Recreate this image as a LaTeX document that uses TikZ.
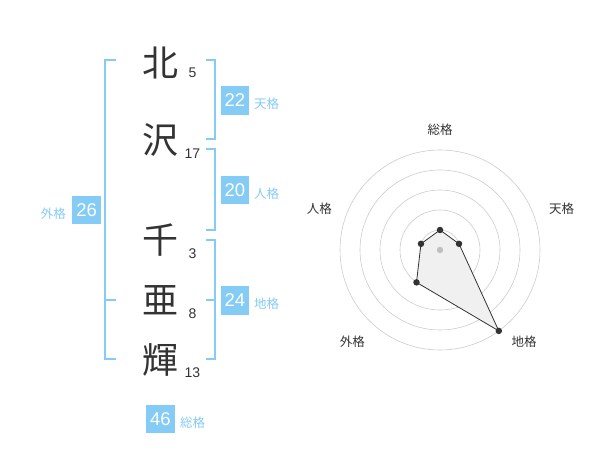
\documentclass[tikz,border=0pt]{standalone}
\usepackage{fontspec}
\setmainfont{Liberation Sans}
\newfontfamily\jpfont{Noto Sans CJK JP}
\definecolor{kaku}{HTML}{84CBF6}
\definecolor{ink}{HTML}{333333}

\begin{document}
\begin{tikzpicture}[x=1pt,y=-1pt,
    kanji/.style={text=ink,inner sep=0pt,font=\jpfont\fontsize{36}{36}\selectfont},
    strokes/.style={text=ink,inner sep=0pt,font=\fontsize{14}{14}\selectfont},
    kakubox/.style={fill=kaku,text=white,minimum width=28.5pt,minimum height=28.5pt,inner sep=0pt,font=\fontsize{18.5}{18.5}\selectfont},
    kakuname/.style={text=kaku,inner sep=0pt,anchor=west,font=\jpfont\fontsize{12.5}{12.5}\selectfont},
    bracket/.style={draw=kaku,line width=2pt},
    ring/.style={draw=black!20,line width=0.6pt},
    axisname/.style={text=ink,inner sep=0pt,font=\jpfont\fontsize{12.5}{12.5}\selectfont},
    dot/.style={circle,fill=ink,inner sep=0pt,minimum size=6.5pt}]
    \useasboundingbox (0,0) rectangle (600,470);

    % name and stroke counts
    \foreach \ch/\n/\y/\yn/\name in {北/5/63.3/72.7/kita,沢/17/140/153.3/sawa,千/3/240/253.3/chi,亜/8/300/313.3/a,輝/13/360/372.7/ki}
    {
      \node[kanji] (\name) at (160,\y) {\ch};
      \node[strokes] (\name-n) at (192.5,\yn) {\n};
    }

    % brackets
    \draw[bracket] (116,60) -- (104.5,60) -- (104.5,359.3) -- (116,359.3);
    \draw[bracket] (104.5,300) -- (116,300);
    \draw[bracket] (206,60) -- (215,60) -- (215,139.3) -- (206,139.3);
    \draw[bracket] (206,149.3) -- (215,149.3) -- (215,230) -- (206,230);
    \draw[bracket] (206,240) -- (215,240) -- (215,359.3) -- (206,359.3);
    \draw[bracket] (206,300) -- (215,300);

    % scores
    \node[kakubox] (ten) at (235,100.5) {22};
    \node[kakuname] (ten-l) at (254,104) {天格};
    \node[kakubox] (jin) at (235,190) {20};
    \node[kakuname] (jin-l) at (254,194) {人格};
    \node[kakubox] (chikaku) at (235,300.5) {24};
    \node[kakuname] (chikaku-l) at (254,304) {地格};
    \node[kakubox] (gai) at (86.7,210) {26};
    \node[kakuname,anchor=east] (gai-l) at (66,213.3) {外格};
    \node[kakubox] (sou) at (160.5,419) {46};
    \node[kakuname] (sou-l) at (180,422.3) {総格};

    % radar chart (y points down, so angles run clockwise)
    \coordinate (o) at (440,250);
    \foreach \r in {20,40,60,80,100}
      \draw[ring] (o) circle (\r);
    \path (o) ++(-90:20) coordinate (p-sou)
          (o) ++(-18:20) coordinate (p-ten)
          (o) ++(54:100) coordinate (p-chi)
          (o) ++(126:40) coordinate (p-gai)
          (o) ++(-162:20) coordinate (p-jin);
    \fill[black!6] (p-sou) -- (p-ten) -- (p-chi) -- (p-gai) -- (p-jin) -- cycle;
    \fill[black!25] (o) circle (3.2);
    \draw[ink,line width=0.8pt] (p-sou) -- (p-ten) -- (p-chi) -- (p-gai) -- (p-jin) -- cycle;
    \foreach \p in {sou,ten,chi,gai,jin}
      \node[dot] at (p-\p) {};

    \node[axisname] (a-sou) at (440,130) {総格};
    \node[axisname] (a-ten) at (561.7,208.3) {天格};
    \node[axisname] (a-chi) at (524,341.7) {地格};
    \node[axisname] (a-gai) at (352.3,341.7) {外格};
    \node[axisname] (a-jin) at (319.3,208.3) {人格};
  \end{tikzpicture}
\end{document}
